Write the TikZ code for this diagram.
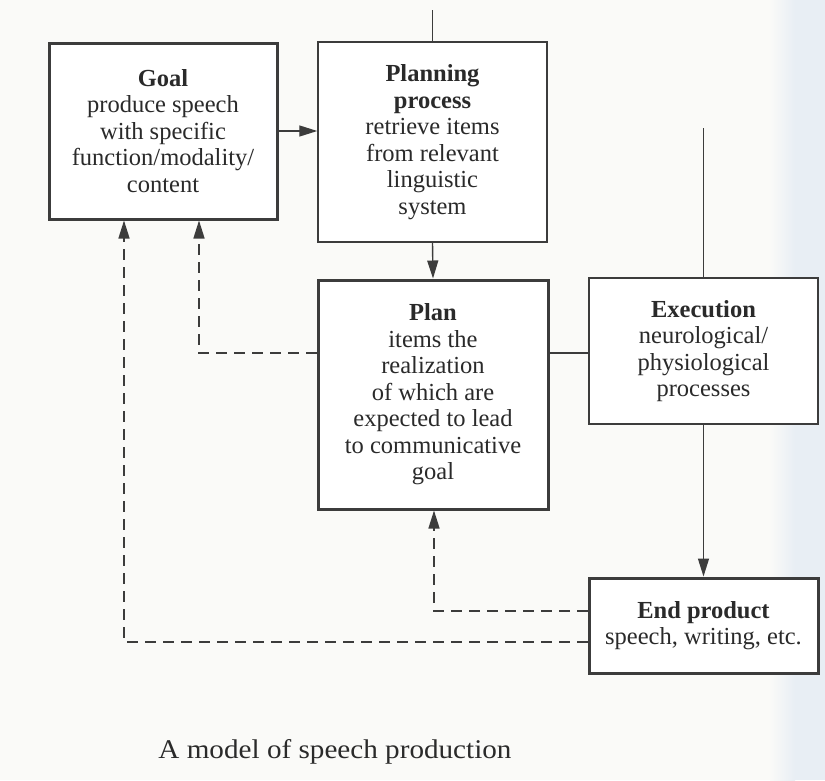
\documentclass[tikz,border=0pt]{standalone}
\usepackage{fontspec}
\usepackage{graphicx}
\setmainfont{Liberation Serif}
\usetikzlibrary{arrows.meta}
\definecolor{bgcol}{HTML}{FAFAF8}
\definecolor{stripcol}{HTML}{E8EEF4}
\definecolor{inkcol}{HTML}{3C3C3C}
\definecolor{txtcol}{HTML}{2A2A2A}
\tikzset{
  box/.style={draw=inkcol, line width=1.5pt, fill=white, inner sep=0pt, align=center,
    text=txtcol, font=\fontsize{24.5}{26.5}\selectfont},
  thickbox/.style={box, line width=3pt},
  conn/.style={draw=inkcol, line width=1.4pt},
  arr/.style={conn, -{Triangle[length=18pt,width=11pt]}},
  fb/.style={arr, dash pattern=on 11pt off 7pt},
}
\begin{document}
\begin{tikzpicture}[x=1pt,y=-1pt]
\fill[bgcol] (0,0) rectangle (825,780);
\useasboundingbox (0,0) rectangle (825,780);
\shade[left color=bgcol, right color=stripcol, shading angle=90] (770,0) rectangle (795,780);
\fill[stripcol] (795,0) rectangle (825,780);

\node[thickbox, minimum width=228pt, minimum height=176pt] (goal) at (163,131)
  {\textbf{Goal}\\produce speech\\with specific\\function/modality/\\content};
\node[box, minimum width=229pt, minimum height=200pt] (planning) at (432.5,142)
  {\textbf{Planning}\\\textbf{process}\\retrieve items\\from relevant\\linguistic\\system};
\node[thickbox, minimum width=230pt, minimum height=229pt] (plan) at (433,394.5)
  {\textbf{Plan}\\items the\\realization\\of which are\\expected to lead\\to communicative\\goal};
\node[box, minimum width=229pt, minimum height=146pt] (exec) at (703.5,351)
  {\textbf{Execution}\\neurological/\\physiological\\processes};
\node[thickbox, minimum width=229pt, minimum height=95pt] (ep) at (703.5,625.5)
  {\textbf{End product}\\speech, writing, etc.};

\node[text=txtcol, font=\fontsize{27}{30}\selectfont] (cap) at (335,752)
  {\scalebox{1.08}[1]{A model of speech production}};

\coordinate (top1) at (432.5,10);
\coordinate (top2) at (703.5,128);
\coordinate (pe) at (0,353);
\coordinate (g2) at (199,353);
\coordinate (d2) at (434,611);
\coordinate (d3) at (124,642);

\draw[conn] (top1) -- (planning.north);
\draw[conn] (top2) -- (exec.north);
\draw[arr] (goal.east) -- (planning.west |- goal.east);
\draw[arr] (planning.south) -- (plan.north);
\draw[conn] (plan.east |- pe) -- (exec.west |- pe);
\draw[arr] (exec.south) -- (ep.north);
\draw[fb] (plan.west |- g2) -| (goal.south -| g2);
\draw[fb] (ep.west |- d2) -| (plan.south -| d2);
\draw[fb] (ep.west |- d3) -| (goal.south -| d3);
\end{tikzpicture}
\end{document}
